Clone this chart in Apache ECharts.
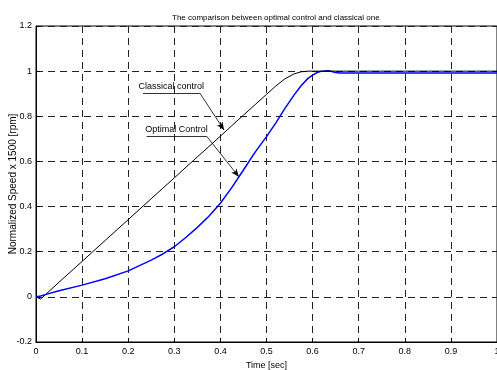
<!DOCTYPE html>
<html>
<head>
<meta charset="utf-8">
<script src="https://cdn.jsdelivr.net/npm/echarts@6/dist/echarts.min.js"></script>
<style>
  html, body { margin: 0; padding: 0; background: #fff; }
  #chart { width: 497px; height: 370px; }
</style>
</head>
<body>
<div id="chart"></div>
<script>
// time samples (sec) and normalized speed
const timeSec = [0, 0.01, 0.02, 0.05, 0.1, 0.15, 0.2, 0.25, 0.275, 0.3, 0.325, 0.35, 0.375, 0.4, 0.425, 0.45, 0.475, 0.5, 0.52, 0.54, 0.56, 0.575, 0.59, 0.6, 0.61, 0.62, 0.635, 0.65, 0.66, 0.7, 0.8, 0.9, 1.0]
const classical = [0, -0.01, 0.009, 0.065, 0.157, 0.25, 0.342, 0.435, 0.481, 0.527, 0.574, 0.62, 0.666, 0.712, 0.759, 0.805, 0.851, 0.897, 0.934, 0.966, 0.988, 0.997, 1.0, 1.0, 1.0, 1.0, 1.0, 1.0, 1.0, 1.0, 1.0, 1.0, 1.0]
const optimal = [0, 0.004, 0.01, 0.027, 0.052, 0.08, 0.115, 0.163, 0.19, 0.222, 0.263, 0.308, 0.357, 0.415, 0.485, 0.562, 0.64, 0.71, 0.77, 0.835, 0.895, 0.935, 0.968, 0.982, 0.994, 1.0, 1.002, 0.994, 0.992, 0.992, 0.992, 0.992, 0.992]

// annotation anchors in data units: underline start, underline end, arrow tip
const classicalNote = [[0.232, 0.904], [0.355, 0.904], [0.408, 0.739]]
const optimalNote = [[0.24, 0.712], [0.37, 0.712], [0.44, 0.532]]

const FONT = "'Liberation Sans Narrow', 'Liberation Sans', sans-serif"

function pairs(ys) {
  return timeSec.map((t, i) => [t, ys[i]])
}

function noteLines(pts, text) {
  return [
    [
      { coord: pts[0], symbol: 'none',
        label: { show: true, formatter: text, position: 'insideMiddleTop', distance: 2,
          fontFamily: FONT, fontSize: 9, color: '#000' } },
      { coord: pts[1], symbol: 'none' },
    ],
    [
      { coord: pts[1], symbol: 'none', label: { show: false } },
      { coord: pts[2], symbol: 'arrow', symbolSize: [5, 8] },
    ],
  ]
}

const chart = echarts.init(document.getElementById('chart'))

chart.setOption({
  animation: false,
  title: {
    text: 'The comparison between optimal control and classical one',
    left: 167,
    top: 9,
    textStyle: { fontFamily: FONT, fontSize: 8, fontWeight: 'normal', color: '#000' },
  },
  grid: {
    left: 36, right: 0, top: 26, bottom: 28,
    outerBoundsMode: 'none',
    containLabel: false,
    show: true, borderColor: '#000', borderWidth: 1,
  },
  xAxis: {
    type: 'value',
    min: 0, max: 1, interval: 0.1,
    name: 'Time [sec]',
    nameLocation: 'middle',
    nameGap: 19,
    nameMoveOverlap: false,
    nameTextStyle: { fontFamily: FONT, fontSize: 9, color: '#000' },
    axisLine: { onZero: false, lineStyle: { color: '#000', width: 1 } },
    axisTick: { inside: true, length: 4, lineStyle: { color: '#000' } },
    axisLabel: { fontFamily: FONT, fontSize: 9, color: '#000', margin: 5 },
    splitLine: { show: true, lineStyle: { color: '#222', type: [7, 5], width: 1 } },
  },
  yAxis: {
    type: 'value',
    min: -0.2, max: 1.2, interval: 0.2,
    name: 'Normalized Speed x 1500 [rpm]',
    nameLocation: 'middle',
    nameGap: 18,
    nameMoveOverlap: false,
    nameTextStyle: { fontFamily: "'Liberation Sans', sans-serif", fontSize: 10, color: '#000' },
    axisLine: { show: true, onZero: false, lineStyle: { color: '#000', width: 1 } },
    axisTick: { show: true, inside: true, length: 4, lineStyle: { color: '#000' } },
    axisLabel: { fontFamily: FONT, fontSize: 9, color: '#000', margin: 4,
      formatter: v => String(Math.round(v * 10) / 10) },
    splitLine: { show: true, lineStyle: { color: '#222', type: [7, 5], width: 1 } },
  },
  series: [
    {
      name: 'Classical control',
      type: 'line',
      data: pairs(classical),
      showSymbol: false,
      lineStyle: { color: '#000', width: 1 },
      markLine: {
        silent: true,
        animation: false,
        lineStyle: { color: '#000', width: 0.8, type: 'solid' },
        data: noteLines(classicalNote, 'Classical control'),
      },
      z: 3,
    },
    {
      name: 'Optimal Control',
      type: 'line',
      data: pairs(optimal),
      showSymbol: false,
      lineStyle: { color: '#0000ff', width: 1.5 },
      markLine: {
        silent: true,
        animation: false,
        lineStyle: { color: '#000', width: 0.8, type: 'solid' },
        data: noteLines(optimalNote, 'Optimal Control'),
      },
      z: 2,
    },
  ],
})
</script>
</body>
</html>
